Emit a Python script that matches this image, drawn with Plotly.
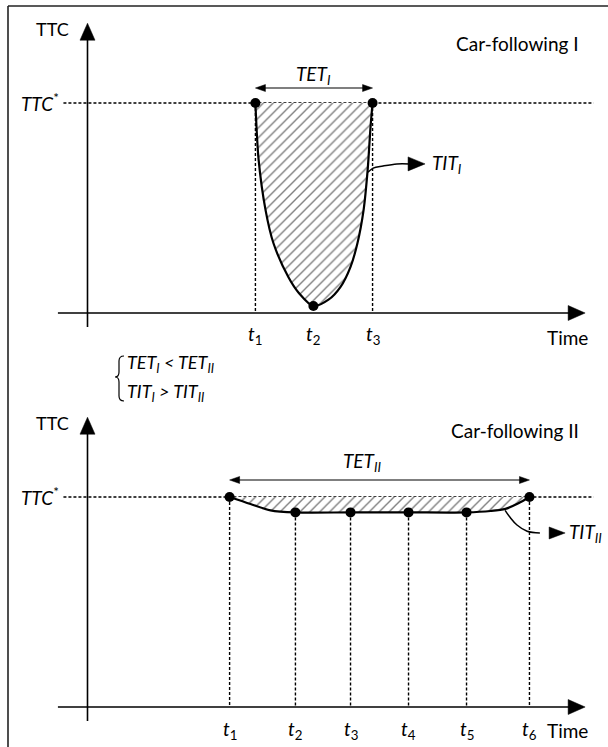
import plotly.graph_objects as go

# ---------------- data (chart units: time, TTC) ----------------
TTC_STAR = 3.0

# Car-following I
cf1_event_t = [5.79, 7.79, 9.83]            # t1, t2, t3
cf1_event_ttc = [3.0, 0.1, 3.0]
cf1_event_names = ["1", "2", "3"]
cf1_curve_t = [5.79, 5.90, 6.14, 6.41, 6.93, 7.28, 7.79, 8.31, 8.72, 9.07, 9.31, 9.52, 9.66, 9.76, 9.83]
cf1_curve_ttc = [3.0, 2.19, 1.47, 1.0, 0.51, 0.29, 0.1, 0.19, 0.37, 0.66, 1.0, 1.47, 2.04, 2.66, 3.0]

# Car-following II
cf2_event_t = [4.90, 7.17, 9.07, 11.07, 13.07, 15.24]   # t1..t6
cf2_event_ttc = [3.0, 2.78, 2.78, 2.78, 2.78, 3.0]
cf2_event_names = ["1", "2", "3", "4", "5", "6"]
cf2_curve_t = [4.90, 5.62, 6.31, 7.17, 9.07, 11.07, 13.07, 13.9, 14.41, 14.86, 15.24]
cf2_curve_ttc = [3.0, 2.9, 2.81, 2.78, 2.78, 2.78, 2.78, 2.8, 2.83, 2.91, 3.0]

# TIT pointer paths (chart units)
tit1_t = [9.67, 9.85, 10.19, 10.67, 11.1, 11.64]
tit1_ttc = [2.01, 2.07, 2.10, 2.13, 2.13, 2.13]
tit2_t = [14.40, 14.57, 14.81, 15.16, 15.6, 16.47]
tit2_ttc = [2.81, 2.71, 2.60, 2.51, 2.486, 2.486]

# ---------------- layout geometry ----------------
W, H = 608, 747
X0_PX, PX_PER_T = 87.5, 29.0
TOP_Y0_PX, BOT_Y0_PX, PX_PER_TTC = 313.0, 707.0, 70.0
x_range = [-X0_PX / PX_PER_T, (W - X0_PX) / PX_PER_T]
y_range_top = [(TOP_Y0_PX - H) / PX_PER_TTC, TOP_Y0_PX / PX_PER_TTC]
y_range_bot = [(BOT_Y0_PX - H) / PX_PER_TTC, BOT_Y0_PX / PX_PER_TTC]


def px(x):
    return x / W


def py(y):
    return 1 - y / H


FONT = "Lato, 'Open Sans', Arial, sans-serif"
fig = go.Figure()

DOT = "3px,2px"


def line(xs, ys, yax, width=1.5, dash=None, shape="linear"):
    fig.add_trace(go.Scatter(x=xs, y=ys, mode="lines", yaxis=yax, hoverinfo="skip",
                             line=dict(color="black", width=width, dash=dash, shape=shape)))


def head(tx, ty, direction, yax, length=17, width=15):
    # filled triangular arrow head, tip at (tx, ty); sizes in pixels
    L, Wd = length / PX_PER_T, width / 2 / PX_PER_T
    Ly, Wy = length / PX_PER_TTC, width / 2 / PX_PER_TTC
    if direction == "up":
        xs, ys = [tx, tx - Wd, tx + Wd, tx], [ty, ty - Ly, ty - Ly, ty]
    elif direction == "right":
        xs, ys = [tx, tx - L, tx - L, tx], [ty, ty + Wy, ty - Wy, ty]
    else:  # left
        xs, ys = [tx, tx + L, tx + L, tx], [ty, ty + Wy, ty - Wy, ty]
    fig.add_trace(go.Scatter(x=xs, y=ys, mode="lines", fill="toself", fillcolor="black",
                             line=dict(color="black", width=0.5), yaxis=yax, hoverinfo="skip"))


def add_panel(yax, ev_t, ev_ttc, c_t, c_ttc, skip_on_axis, tet_y):
    # axes with arrows
    line([0, 0], [-0.2, 4.0], yax, width=1.6)
    head(0, 4.14, "up", yax)
    line([-1.02, 17.0], [0, 0], yax, width=1.6)
    head(17.16, 0, "right", yax)
    # TTC* threshold line
    line([-0.83, 17.45], [TTC_STAR, TTC_STAR], yax, width=1.4, dash=DOT)
    # vertical dotted guides
    vx, vy = [], []
    for t, v in zip(ev_t, ev_ttc):
        if skip_on_axis and v < 0.5:
            continue
        vx += [t, t, None]
        vy += [v, 0, None]
    line(vx, vy, yax, width=1.4, dash=DOT)
    # hatched area + curve
    fig.add_trace(go.Scatter(x=c_t, y=c_ttc, mode="lines", fill="toself",
                             fillcolor="white",
                             fillpattern=dict(shape="/", fgcolor="black", bgcolor="white",
                                              size=7, solidity=0.2),
                             line=dict(color="black", width=2.2, shape="spline", smoothing=0.8),
                             yaxis=yax, hoverinfo="skip"))
    # event points
    fig.add_trace(go.Scatter(x=ev_t, y=ev_ttc, mode="markers",
                             marker=dict(color="black", size=10), yaxis=yax, hoverinfo="skip"))
    # TET double arrow
    t0, t1 = ev_t[0], ev_t[-1]
    line([t0 + 0.2, t1 - 0.2], [tet_y, tet_y], yax, width=1.1)
    head(t0, tet_y, "left", yax, length=10, width=7)
    head(t1, tet_y, "right", yax, length=10, width=7)


add_panel("y", cf1_event_t, cf1_event_ttc, cf1_curve_t, cf1_curve_ttc, True, 3.214)
add_panel("y2", cf2_event_t, cf2_event_ttc, cf2_curve_t, cf2_curve_ttc, False, 3.243)

# TIT pointers
line(tit1_t[:-1], tit1_ttc[:-1], "y", width=1.5, shape="spline")
head(tit1_t[-1], tit1_ttc[-1], "right", "y", length=17, width=14)
line(tit2_t[:-1], tit2_ttc[:-1], "y2", width=1.5, shape="spline")
head(tit2_t[-1], tit2_ttc[-1], "right", "y2", length=16, width=12)

ann = []


def text(x, y, s, size=19, xanchor="center", ref=("paper", "paper")):
    ann.append(dict(x=x, y=y, xref=ref[0], yref=ref[1], text=s, showarrow=False,
                    xanchor=xanchor, yanchor="middle",
                    font=dict(family=FONT, size=size, color="black")))


# panel texts
text(px(52), py(29), "TTC", size=18)
text(px(52), py(423), "TTC", size=18)
text(px(61), py(103), "<i>TTC</i><sup>*</sup>", xanchor="right")
text(px(61), py(496), "<i>TTC</i><sup>*</sup>", xanchor="right")
text(px(581), py(43), "Car-following I", xanchor="right")
text(px(581), py(430), "Car-following II", xanchor="right")
text(px(567), py(337), "Time")
text(px(567), py(730), "Time")
text(cf1_event_t[1], 3.4, "<i>TET<sub>I</sub></i>", ref=("x", "y"))
text(px(362), py(462), "<i>TET<sub>II</sub></i>")
text(px(430), py(164), "<i>TIT<sub>I</sub></i>", xanchor="left")
text(px(567), py(533), "<i>TIT<sub>II</sub></i>", xanchor="left")
for t, n in zip(cf1_event_t, cf1_event_names):
    text(t, -0.31, f"<i>t</i><sub>{n}</sub>", ref=("x", "y"))
for t, n in zip(cf2_event_t, cf2_event_names):
    text(t, -0.33, f"<i>t</i><sub>{n}</sub>", ref=("x", "y2"))
text(px(125), py(363), "<i>TET<sub>I</sub> &lt; TET<sub>II</sub></i>", size=18, xanchor="left")
text(px(125), py(392), "<i>TIT<sub>I</sub> &gt; TIT<sub>II</sub></i>", size=18, xanchor="left")

# brace
brace = [(124, 356), (119, 356), (119, 361), (119, 372), (119, 377), (115, 377),
         (119, 377), (119, 382), (119, 396), (119, 401), (124, 401)]
b = [(px(a), py(c)) for a, c in brace]
path = (f"M {b[0][0]} {b[0][1]} Q {b[1][0]} {b[1][1]} {b[2][0]} {b[2][1]} "
        f"L {b[3][0]} {b[3][1]} Q {b[4][0]} {b[4][1]} {b[5][0]} {b[5][1]} "
        f"Q {b[6][0]} {b[6][1]} {b[7][0]} {b[7][1]} L {b[8][0]} {b[8][1]} "
        f"Q {b[9][0]} {b[9][1]} {b[10][0]} {b[10][1]}")
shapes = [
    dict(type="path", xref="paper", yref="paper", path=path,
         line=dict(color="black", width=1.2)),
    dict(type="line", xref="paper", yref="paper", x0=px(8), y0=0, x1=px(8), y1=py(6),
         line=dict(color="#222", width=1.6)),
    dict(type="line", xref="paper", yref="paper", x0=px(8), y0=py(6), x1=1, y1=py(6),
         line=dict(color="#222", width=1.6)),
]

fig.update_layout(
    width=W, height=H, margin=dict(l=0, r=0, t=0, b=0),
    paper_bgcolor="white", plot_bgcolor="white", showlegend=False,
    xaxis=dict(visible=False, range=x_range, fixedrange=True),
    yaxis=dict(visible=False, range=y_range_top, fixedrange=True),
    yaxis2=dict(visible=False, range=y_range_bot, overlaying="y", fixedrange=True),
    annotations=ann, shapes=shapes,
    font=dict(family=FONT, color="black"),
)

fig.write_html("out.html", config={"displayModeBar": False, "staticPlot": True},
               post_script="document.body.style.margin='0px';")
